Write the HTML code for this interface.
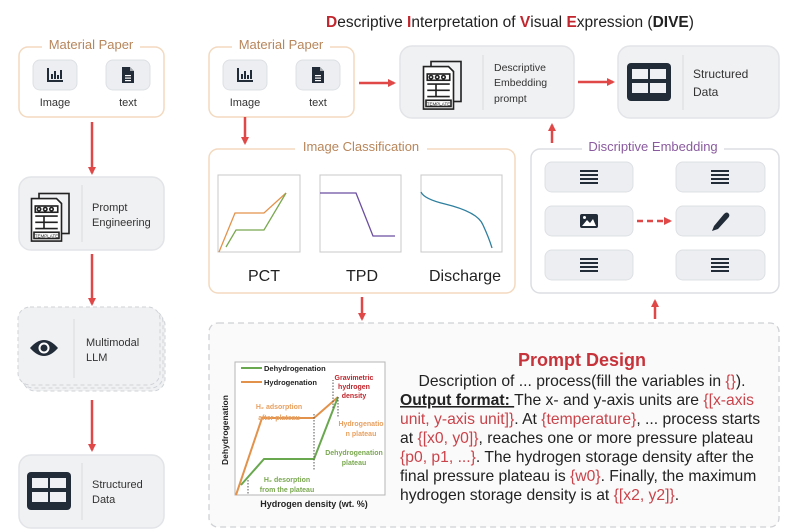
<!DOCTYPE html>
<html><head><meta charset="utf-8"><style>
html,body{margin:0;padding:0;background:#fff;}
svg{display:block;font-family:"Liberation Sans",sans-serif;}
</style></head><body>
<svg width="800" height="530" viewBox="0 0 800 530" xmlns="http://www.w3.org/2000/svg">
<defs>
<marker id="ah" markerWidth="8" markerHeight="8" refX="6" refY="4" orient="auto" markerUnits="userSpaceOnUse"><path d="M0,0 L8,4 L0,8 z" fill="#e04848"/></marker>
<g id="bar"><rect x="-8" y="-7" width="2" height="14" fill="#222b38"/><rect x="-8" y="5" width="16" height="2" fill="#222b38"/><rect x="-4" y="-1" width="2" height="5" fill="#222b38"/><rect x="-1" y="-4" width="2" height="8" fill="#222b38"/><rect x="2" y="0" width="2" height="4" fill="#222b38"/><rect x="5" y="-5" width="2" height="9" fill="#222b38"/></g>
<g id="doc"><path d="M-6,-8 H2 L6,-4 V8 H-6 Z" fill="#222b38"/><path d="M2,-8 V-4 H6" fill="#fff" opacity=".6"/><rect x="-3" y="0" width="6" height="1.2" fill="#fff"/><rect x="-3" y="2.5" width="6" height="1.2" fill="#fff"/><rect x="-3" y="5" width="6" height="1.2" fill="#fff"/></g>
<g id="tmpl0" fill="none" stroke="#222" stroke-width="1.3"><rect x="-8" y="-14" width="24" height="32"/><path d="M-14,-10 H6 L10,-6 V24 H-14 Z" fill="#fff"/><rect x="-11" y="-4" width="18" height="5"/><circle cx="-8" cy="-1.5" r="1.4"/><circle cx="-3" cy="-1.5" r="1.4"/><circle cx="2" cy="-1.5" r="1.4"/><path d="M-11,4 H7 M-11,9 H7 M-11,14 H7 M-4,4 V14"/><rect x="-12" y="17" width="20" height="5" fill="#fff"/><text x="-2" y="21" font-size="3.6" text-anchor="middle" fill="#222" stroke="none">TEMPLATE</text></g>
<g id="tmpl"><use href="#tmpl0" transform="scale(1.25)"/></g>
<g id="tbl"><rect x="-22" y="-19" width="44" height="38" rx="4" fill="#222b38"/><rect x="-17" y="-13" width="16" height="10" fill="#eef0f3"/><rect x="1" y="-13" width="16" height="10" fill="#eef0f3"/><rect x="-17" y="1" width="16" height="10" fill="#eef0f3"/><rect x="1" y="1" width="16" height="10" fill="#eef0f3"/></g>
<g id="ham" fill="#222b38"><rect x="-9" y="-7" width="18" height="2"/><rect x="-9" y="-3" width="18" height="2"/><rect x="-9" y="1" width="18" height="2"/><rect x="-9" y="5" width="18" height="2"/></g>
</defs>

<text x="510" y="27" font-size="15.5" text-anchor="middle" fill="#222"><tspan fill="#c0262d" font-weight="bold">D</tspan>escriptive <tspan fill="#c0262d" font-weight="bold">I</tspan>nterpretation of <tspan fill="#c0262d" font-weight="bold">V</tspan>isual <tspan fill="#c0262d" font-weight="bold">E</tspan>xpression (<tspan font-weight="bold">DIVE</tspan>)</text>

<rect x="19" y="47" width="145" height="70" rx="9" fill="#fff" stroke="#f3d9bf" stroke-width="1.5"/>
<rect x="42" y="38" width="98" height="14" fill="#fff"/>
<text x="91" y="49" font-size="13" text-anchor="middle" fill="#b8865b">Material Paper</text>
<rect x="33" y="60" width="44" height="30" rx="7" fill="#eceef1" stroke="#dde0e4"/>
<use href="#bar" x="55" y="75"/>
<rect x="106" y="60" width="44" height="30" rx="7" fill="#eceef1" stroke="#dde0e4"/>
<use href="#doc" x="128" y="75"/>
<text x="55" y="106" font-size="11" text-anchor="middle" fill="#333">Image</text>
<text x="128" y="106" font-size="11" text-anchor="middle" fill="#333">text</text>

<line x1="92" y1="122" x2="92" y2="173" stroke="#e04848" stroke-width="2.5" marker-end="url(#ah)"/>

<rect x="19" y="177" width="145" height="73" rx="12" fill="#f0f1f3" stroke="#e2e4e7" stroke-width="1.5"/>
<line x1="82" y1="185" x2="82" y2="242" stroke="#d8dadd"/>
<use href="#tmpl" x="49" y="211"/>
<text x="92" y="211" font-size="11" fill="#333">Prompt</text>
<text x="92" y="226" font-size="11" fill="#333">Engineering</text>

<line x1="92" y1="254" x2="92" y2="304" stroke="#e04848" stroke-width="2.5" marker-end="url(#ah)"/>

<rect x="23" y="313" width="142" height="78" rx="12" fill="#f0f1f3" stroke="#cfd2d6" stroke-dasharray="4,3"/>
<rect x="21" y="310" width="142" height="78" rx="12" fill="#f0f1f3" stroke="#cfd2d6" stroke-dasharray="4,3"/>
<rect x="18" y="307" width="142" height="78" rx="12" fill="#f0f1f3" stroke="#cfd2d6" stroke-dasharray="4,3"/>
<line x1="74" y1="319" x2="74" y2="378" stroke="#d8dadd"/>
<path d="M30,348 Q44,332 58,348 Q44,364 30,348 Z" fill="#222b38"/>
<circle cx="44" cy="348" r="5.5" fill="#fff"/><circle cx="44" cy="348" r="3.5" fill="#222b38"/>
<text x="86" y="346" font-size="11" fill="#333">Multimodal</text>
<text x="86" y="361" font-size="11" fill="#333">LLM</text>

<line x1="92" y1="400" x2="92" y2="450" stroke="#e04848" stroke-width="2.5" marker-end="url(#ah)"/>

<rect x="19" y="455" width="145" height="73" rx="12" fill="#f0f1f3" stroke="#e2e4e7" stroke-width="1.5"/>
<line x1="82" y1="463" x2="82" y2="520" stroke="#d8dadd"/>
<use href="#tbl" x="49" y="491"/>
<text x="92" y="488" font-size="11" fill="#333">Structured</text>
<text x="92" y="503" font-size="11" fill="#333">Data</text>

<rect x="209" y="47" width="145" height="70" rx="9" fill="#fff" stroke="#f3d9bf" stroke-width="1.5"/>
<rect x="232" y="38" width="98" height="14" fill="#fff"/>
<text x="281" y="49" font-size="13" text-anchor="middle" fill="#b8865b">Material Paper</text>
<rect x="223" y="60" width="44" height="30" rx="7" fill="#eceef1" stroke="#dde0e4"/>
<use href="#bar" x="245" y="75"/>
<rect x="296" y="60" width="44" height="30" rx="7" fill="#eceef1" stroke="#dde0e4"/>
<use href="#doc" x="318" y="75"/>
<text x="245" y="106" font-size="11" text-anchor="middle" fill="#333">Image</text>
<text x="318" y="106" font-size="11" text-anchor="middle" fill="#333">text</text>

<line x1="359" y1="83" x2="394" y2="83" stroke="#e04848" stroke-width="2.5" marker-end="url(#ah)"/>

<rect x="400" y="46" width="174" height="72" rx="12" fill="#f0f1f3" stroke="#e2e4e7" stroke-width="1.5"/>
<line x1="483" y1="55" x2="483" y2="110" stroke="#d8dadd"/>
<use href="#tmpl" x="441" y="79"/>
<text x="494" y="71" font-size="10.5" fill="#333">Descriptive</text>
<text x="494" y="86" font-size="10.5" fill="#333">Embedding</text>
<text x="494" y="102" font-size="10.5" fill="#333">prompt</text>

<line x1="578" y1="82" x2="613" y2="82" stroke="#e04848" stroke-width="2.5" marker-end="url(#ah)"/>

<rect x="618" y="46" width="161" height="72" rx="12" fill="#f0f1f3" stroke="#e2e4e7" stroke-width="1.5"/>
<line x1="683" y1="55" x2="683" y2="110" stroke="#d8dadd"/>
<use href="#tbl" x="649" y="82"/>
<text x="693" y="78" font-size="12" fill="#333">Structured</text>
<text x="693" y="96" font-size="12" fill="#333">Data</text>

<line x1="552" y1="143" x2="552" y2="125" stroke="#e04848" stroke-width="2.5" marker-end="url(#ah)"/>
<line x1="245" y1="117" x2="245" y2="143" stroke="#e04848" stroke-width="2.5" marker-end="url(#ah)"/>

<rect x="209" y="149" width="306" height="144" rx="9" fill="#fff" stroke="#f3d9bf" stroke-width="1.5"/>
<rect x="295" y="140" width="132" height="14" fill="#fff"/>
<text x="361" y="151" font-size="13" text-anchor="middle" fill="#b8865b">Image Classification</text>
<rect x="218" y="175" width="82" height="77" fill="#fff" stroke="#c8c8c8"/>
<polyline points="219,252 235,213 264,213 286,193" fill="none" stroke="#e3924b" stroke-width="1.3"/>
<polyline points="226,247 236,230 264,230 286,193" fill="none" stroke="#7aa850" stroke-width="1.3"/>
<rect x="320" y="175" width="81" height="77" fill="#fff" stroke="#c8c8c8"/>
<polyline points="320,193 356,193 373,236 395,236" fill="none" stroke="#6b4ea0" stroke-width="1.3"/>
<rect x="421" y="175" width="81" height="77" fill="#fff" stroke="#c8c8c8"/>
<path d="M421,192 Q424,199 445,204 Q478,212 483,225 Q489,238 492,248" fill="none" stroke="#2e7f9e" stroke-width="1.3"/>
<text x="264" y="281" font-size="16" text-anchor="middle" fill="#222">PCT</text>
<text x="362" y="281" font-size="16" text-anchor="middle" fill="#222">TPD</text>
<text x="465" y="281" font-size="16" text-anchor="middle" fill="#222">Discharge</text>

<rect x="531" y="149" width="248" height="144" rx="9" fill="#fff" stroke="#dcdee2" stroke-width="1.5"/>
<rect x="582" y="140" width="142" height="14" fill="#fff"/>
<text x="653" y="151" font-size="13" text-anchor="middle" fill="#8a5a9e">Discriptive Embedding</text>
<rect x="545" y="162" width="88" height="30" rx="7" fill="#eceef1" stroke="#dde0e4"/>
<use href="#ham" x="589" y="177"/>
<rect x="676" y="162" width="89" height="30" rx="7" fill="#eceef1" stroke="#dde0e4"/>
<use href="#ham" x="720" y="177"/>
<rect x="545" y="206" width="88" height="30" rx="7" fill="#eceef1" stroke="#dde0e4"/>
<rect x="580" y="214" width="18" height="14" rx="2" fill="#222b38"/><path d="M582,226 L587,220 L590,223 L593,219 L596,226 Z" fill="#fff"/><circle cx="584.5" cy="217.5" r="1.5" fill="#fff"/>
<rect x="676" y="206" width="89" height="30" rx="7" fill="#eceef1" stroke="#dde0e4"/>
<path d="M712,231 L714,226 L724,214 Q727,211 729,214 Q730,216 728,218 L718,229 Z" fill="#222b38"/>
<line x1="637" y1="221" x2="670" y2="221" stroke="#e04848" stroke-width="2.5" stroke-dasharray="6,4" marker-end="url(#ah)"/>
<rect x="545" y="250" width="88" height="30" rx="7" fill="#eceef1" stroke="#dde0e4"/>
<use href="#ham" x="589" y="265"/>
<rect x="676" y="250" width="89" height="30" rx="7" fill="#eceef1" stroke="#dde0e4"/>
<use href="#ham" x="720" y="265"/>

<line x1="655" y1="319" x2="655" y2="301" stroke="#e04848" stroke-width="2.5" marker-end="url(#ah)"/>
<line x1="362" y1="297" x2="362" y2="319" stroke="#e04848" stroke-width="2.5" marker-end="url(#ah)"/>

<rect x="209" y="323" width="570" height="204" rx="9" fill="#fafafa" stroke="#cfd1d4" stroke-width="1.3" stroke-dasharray="6,4"/>
<rect x="235" y="362" width="150" height="133" fill="#fff" stroke="#b5b5b5"/>
<line x1="241" y1="368" x2="262" y2="368" stroke="#6aa84f" stroke-width="2"/>
<text x="264" y="371" font-size="7.5" font-weight="bold" fill="#222">Dehydrogenation</text>
<line x1="241" y1="382" x2="262" y2="382" stroke="#e3924b" stroke-width="2"/>
<text x="264" y="385" font-size="7.5" font-weight="bold" fill="#222">Hydrogenation</text>
<polyline points="236,495 262,418 314,418 338,397" fill="none" stroke="#e3924b" stroke-width="2"/>
<polyline points="241,485 264,459 314,459 338,397" fill="none" stroke="#6aa84f" stroke-width="2"/>
<line x1="333" y1="408" x2="333" y2="380" stroke="#555" stroke-dasharray="1.5,1.5"/>
<line x1="314" y1="414" x2="314" y2="470" stroke="#555" stroke-dasharray="1.5,1.5"/>
<line x1="248" y1="480" x2="248" y2="494" stroke="#555" stroke-dasharray="1.5,1.5"/>
<line x1="338" y1="397" x2="338" y2="418" stroke="#555" stroke-dasharray="1.5,1.5"/>
<g font-size="7" font-weight="bold" text-anchor="middle">
<text x="354" y="380" fill="#c0262d">Gravimetric</text>
<text x="354" y="389" fill="#c0262d">hydrogen</text>
<text x="354" y="398" fill="#c0262d">density</text>
<text x="279" y="409" fill="#e8a060">H₂ adsorption</text>
<text x="279" y="420" fill="#e8a060">after plateau</text>
<text x="361" y="426" fill="#e8a060">Hydrogenatio</text>
<text x="361" y="436" fill="#e8a060">n plateau</text>
<text x="354" y="455" fill="#7aa850">Dehydrogenation</text>
<text x="354" y="465" fill="#7aa850">plateau</text>
<text x="287" y="482" fill="#7aa850">H₂ desorption</text>
<text x="287" y="492" fill="#7aa850">from the plateau</text>
</g>
<text x="228" y="430" font-size="8.5" font-weight="bold" fill="#222" text-anchor="middle" transform="rotate(-90 228 430)">Dehydrogenation</text>
<text x="314" y="507" font-size="9" font-weight="bold" fill="#222" text-anchor="middle">Hydrogen density (wt. %)</text>

<text x="582" y="366" font-size="18" font-weight="bold" fill="#c7333a" text-anchor="middle">Prompt Design</text>
<g font-size="15.7" fill="#222">
<text x="582" y="386" text-anchor="middle">Description of ... process(fill the variables in <tspan fill="#c9434a">{}</tspan>).</text>
<text x="400" y="405"><tspan font-weight="bold" text-decoration="underline">Output format: </tspan>The x- and y-axis units are <tspan fill="#c9434a">{[x-axis</tspan></text>
<text x="400" y="424"><tspan fill="#c9434a">unit, y-axis unit]}</tspan>. At <tspan fill="#c9434a">{temperature}</tspan>, ... process starts</text>
<text x="400" y="443">at <tspan fill="#c9434a">{[x0, y0]}</tspan>, reaches one or more pressure plateau</text>
<text x="400" y="462"><tspan fill="#c9434a">{p0, p1, ...}</tspan>. The hydrogen storage density after the</text>
<text x="400" y="481">final pressure plateau is <tspan fill="#c9434a">{w0}</tspan>. Finally, the maximum</text>
<text x="400" y="500">hydrogen storage density is at <tspan fill="#c9434a">{[x2, y2]}</tspan>.</text>
</g>
</svg>
</body></html>
